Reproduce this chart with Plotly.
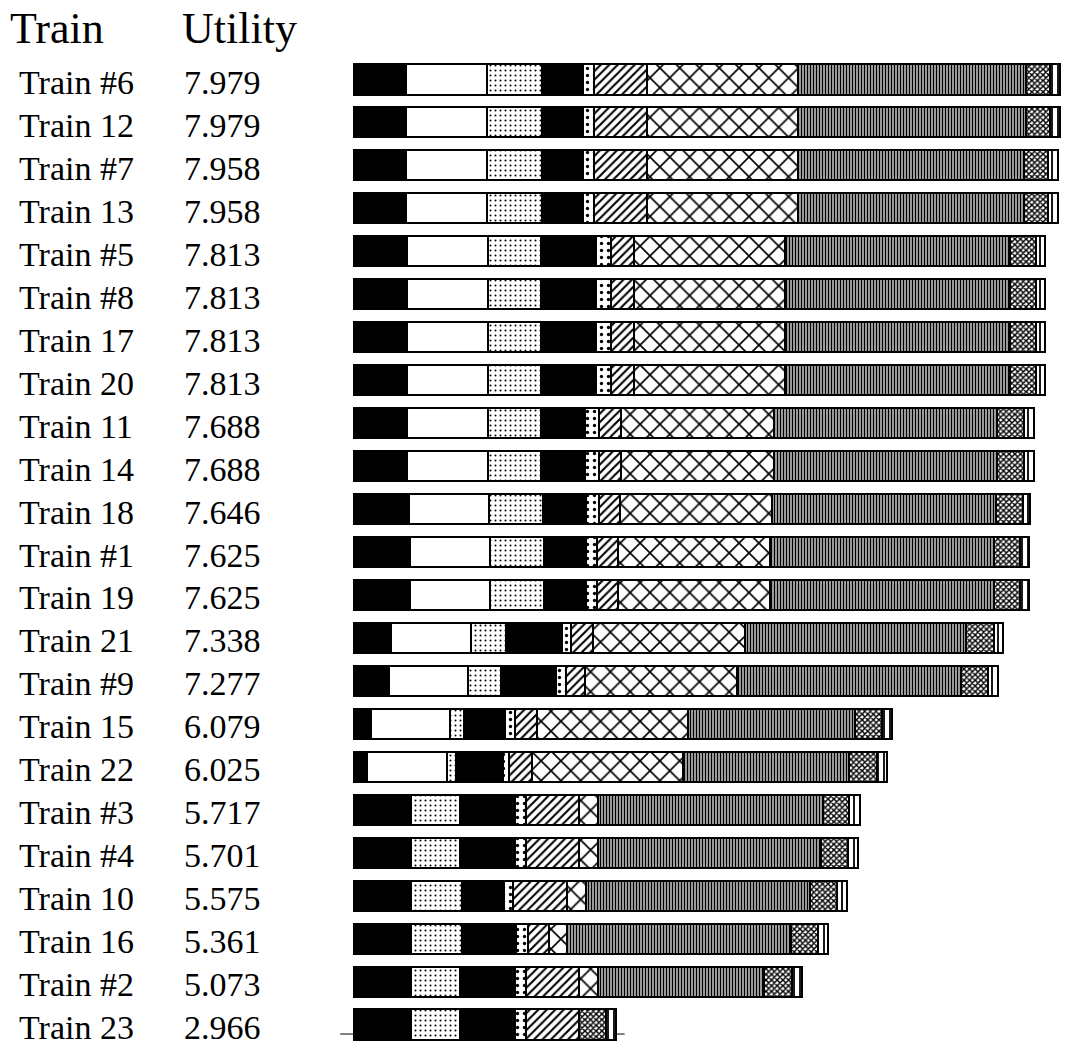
import plotly.graph_objects as go

# Train profiles, top to bottom
trains = ["Train #6", "Train 12", "Train #7", "Train 13", "Train #5", "Train #8",
          "Train 17", "Train 20", "Train 11", "Train 14", "Train 18", "Train #1",
          "Train 19", "Train 21", "Train #9", "Train 15", "Train 22", "Train #3",
          "Train #4", "Train 10", "Train 16", "Train #2", "Train 23"]

utility = [7.979, 7.979, 7.958, 7.958, 7.813, 7.813, 7.813, 7.813, 7.688, 7.688,
           7.646, 7.625, 7.625, 7.338, 7.277, 6.079, 6.025, 5.717, 5.701, 5.575,
           5.361, 5.073, 2.966]

# Part-worth contributions of each attribute (None = attribute level absent)
part1 = [0.60, 0.60, 0.60, 0.60, 0.61, 0.61, 0.61, 0.61, 0.61, 0.61, 0.63, 0.64,
         0.64, 0.43, 0.41, 0.20, 0.16, 0.65, 0.65, 0.65, 0.65, 0.65, 0.65]
part2 = [0.91, 0.91, 0.91, 0.91, 0.91, 0.91, 0.91, 0.91, 0.91, 0.91, 0.91, 0.91,
         0.91, 0.90, 0.89, 0.90, 0.90, None, None, None, None, None, None]
part3 = [0.62, 0.62, 0.62, 0.62, 0.60, 0.60, 0.60, 0.60, 0.60, 0.60, 0.60, 0.60,
         0.60, 0.40, 0.37, 0.15, 0.10, 0.56, 0.56, 0.58, 0.58, 0.56, 0.56]
part4 = [0.47, 0.47, 0.47, 0.47, 0.62, 0.62, 0.62, 0.62, 0.50, 0.50, 0.49, 0.48,
         0.48, 0.63, 0.62, 0.47, 0.53, 0.62, 0.62, 0.47, 0.61, 0.62, 0.62]
part5 = [0.12, 0.12, 0.12, 0.12, 0.17, 0.17, 0.17, 0.17, 0.16, 0.16, 0.15, 0.12,
         0.12, 0.10, 0.11, 0.11, 0.07, 0.12, 0.12, 0.11, 0.13, 0.12, 0.12]
part6 = [0.60, 0.60, 0.60, 0.60, 0.26, 0.26, 0.26, 0.26, 0.24, 0.24, 0.23, 0.24,
         0.24, 0.25, 0.22, 0.25, 0.26, 0.60, 0.60, 0.60, 0.24, 0.60, 0.60]
part7 = [1.70, 1.70, 1.70, 1.70, 1.70, 1.70, 1.70, 1.70, 1.73, 1.73, 1.72, 1.72,
         1.72, 1.71, 1.71, 1.70, 1.70, 0.22, 0.22, 0.22, 0.21, 0.22, None]
part8 = [2.57, 2.57, 2.549, 2.549, 2.55, 2.55, 2.55, 2.55, 2.52, 2.52, 2.526, 2.52,
         2.52, 2.50, 2.53, 1.88, 1.88, 2.53, 2.514, 2.53, 2.52, 1.87, None]
part9 = [0.28, 0.28, 0.28, 0.28, 0.29, 0.29, 0.29, 0.29, 0.30, 0.30, 0.30, 0.30,
         0.30, 0.31, 0.31, 0.31, 0.31, 0.30, 0.30, 0.30, 0.31, 0.31, 0.31]
part10 = [0.109, 0.109, 0.109, 0.109, 0.103, 0.103, 0.103, 0.103, 0.118, 0.118,
          0.090, 0.095, 0.095, 0.108, 0.107, 0.109, 0.115, 0.117, 0.117, 0.115,
          0.111, 0.123, 0.106]

parts = [part1, part2, part3, part4, part5, part6, part7, part8, part9, part10]

# Fill style of each attribute segment: (base colour, pattern shape, fg, bg, size, solidity)
styles = [
    ("black", "", None, None, None, None),
    ("white", "", None, None, None, None),
    ("white", ".", "#000000", "#ffffff", 5, 0.13),
    ("black", "", None, None, None, None),
    ("white", ".", "#000000", "#ffffff", 7, 0.18),
    ("white", "/", "#000000", "#ffffff", 6, 0.35),
    ("white", "x", "#000000", "#ffffff", 14, 0.22),
    ("white", "|", "#000000", "#ffffff", 3, 0.6),
    ("white", "x", "#000000", "#ffffff", 4, 0.6),
    ("white", "|", "#000000", "#ffffff", 6, 0.3),
]

fig = go.Figure()
for i, (vals, st) in enumerate(zip(parts, styles)):
    color, shape, fg, bg, size, solid = st
    marker = dict(color=color, line=dict(color="black", width=2))
    if shape:
        marker["pattern"] = dict(shape=shape, fgcolor=fg, bgcolor=bg, size=size,
                                 solidity=solid, fillmode="replace")
    fig.add_trace(go.Bar(
        y=trains, x=vals, orientation="h", name=f"Attribute {i + 1}",
        marker=marker, showlegend=False, hoverinfo="x+y",
    ))

font_family = "Liberation Serif, Times New Roman, serif"

annotations = []
# Column headers
annotations.append(dict(text="Train", x=-0.484, y=1.0, xref="paper", yref="paper",
                        xanchor="left", yanchor="bottom", yshift=3, showarrow=False,
                        font=dict(family=font_family, size=44, color="black")))
annotations.append(dict(text="Utility", x=-0.243, y=1.0, xref="paper", yref="paper",
                        xanchor="left", yanchor="bottom", yshift=3, showarrow=False,
                        font=dict(family=font_family, size=44, color="black")))
# Row labels: train name and total utility
for name, u in zip(trains, utility):
    annotations.append(dict(text=name, x=-0.471, y=name, xref="paper", yref="y",
                            xanchor="left", yanchor="middle", yshift=-3, showarrow=False,
                            font=dict(family=font_family, size=34, color="black")))
    annotations.append(dict(text=f"{u:.3f}", x=-0.240, y=name, xref="paper", yref="y",
                            xanchor="left", yanchor="middle", yshift=-3, showarrow=False,
                            font=dict(family=font_family, size=34, color="black")))

fig.update_layout(
    barmode="stack",
    bargap=0.30,
    width=1066, height=1046,
    margin=dict(l=353, r=0, t=58, b=0),
    paper_bgcolor="white",
    plot_bgcolor="white",
    annotations=annotations,
    # short rule running through the base of the last bar
    shapes=[dict(type="line", xref="paper", yref="paper", x0=-0.018, x1=0.381,
                 y0=0.0121, y1=0.0121, line=dict(color="black", width=1), layer="below")],
    xaxis=dict(range=[0, 8.047], visible=False, fixedrange=True),
    yaxis=dict(autorange=False, range=[22.5, -0.5], visible=False,
               categoryorder="array", categoryarray=trains),
)

fig.write_html("out.html")
